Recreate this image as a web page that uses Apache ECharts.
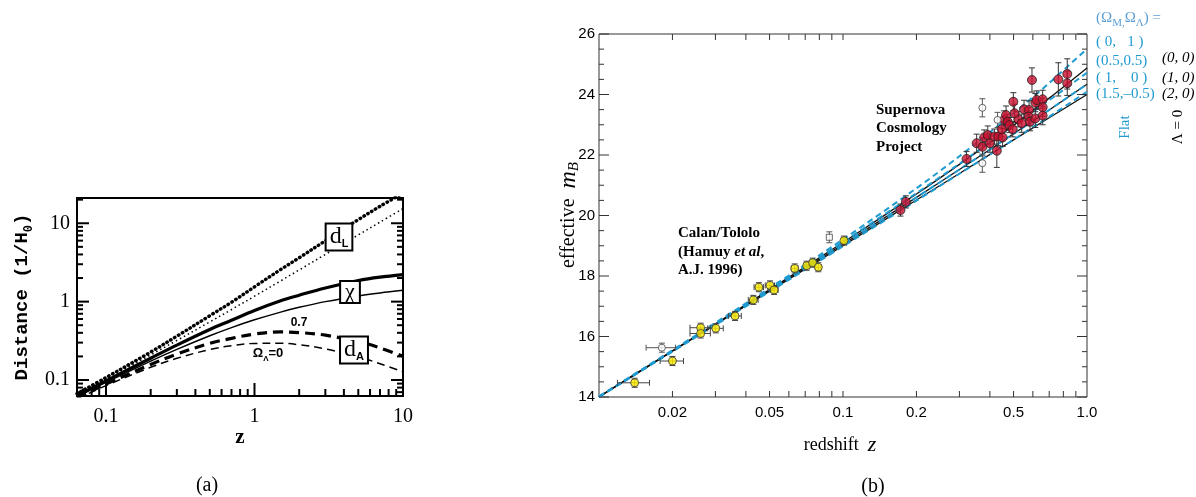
<!DOCTYPE html>
<html><head><meta charset="utf-8">
<script src="https://cdn.jsdelivr.net/npm/echarts@6/dist/echarts.min.js"></script>
<style>html,body{margin:0;padding:0;background:#fff}#c{width:1196px;height:497px}</style>
</head><body><div id="c"></div>
<script>
// ---------- Panel (a): distances vs z ----------
const aZ     = [0.0638, 0.1, 0.2, 0.3, 0.5, 0.7, 1, 1.5, 2, 3, 5, 7, 10];
const aDL07  = [0.0670, 0.1074, 0.2275, 0.3622, 0.6612, 0.982, 1.543, 2.568, 3.627, 5.976, 11.12, 16.44, 24.3];
const aDL0   = [0.0649, 0.1024, 0.2091, 0.3196, 0.5505, 0.7923, 1.172, 1.838, 2.536, 4.0, 7.10, 10.34, 15.37];
const aChi07 = [0.0630, 0.0976, 0.1896, 0.2786, 0.4408, 0.5777, 0.7714, 1.027, 1.209, 1.494, 1.858, 2.055, 2.208];
const aChi0  = [0.0610, 0.0931, 0.1743, 0.2459, 0.3670, 0.4661, 0.5858, 0.7351, 0.8453, 1.0, 1.1835, 1.2929, 1.397];
const aDA07  = [0.0593, 0.0887, 0.1580, 0.2143, 0.2939, 0.3398, 0.3857, 0.4108, 0.4030, 0.3734, 0.3097, 0.2569, 0.2007];
const aDA0   = [0.0574, 0.0847, 0.1452, 0.1891, 0.2447, 0.2742, 0.2929, 0.2940, 0.2818, 0.2500, 0.1973, 0.1616, 0.1270];
const aXMajor = [0.1, 1, 10];
const aXMinor = [0.07,0.08,0.09,0.2,0.3,0.4,0.5,0.6,0.7,0.8,0.9,2,3,4,5,6,7,8,9];
const aXLabels = ['0.1','1','10'];
const aYMajor = [0.1, 1, 10];
const aYMinor = [0.07,0.08,0.09,0.2,0.3,0.4,0.5,0.6,0.7,0.8,0.9,2,3,4,5,6,7,8,9,20];
const aYLabels = ['0.1','1','10'];

// ---------- Panel (b): Hubble diagram ----------
const bZ = [0.01, 0.02, 0.05, 0.1, 0.2, 0.3, 0.5, 0.7, 1.0];
const mFlat_0_1    = [14.02, 15.55, 17.60, 19.21, 20.90, 21.96, 23.38, 24.38, 25.51];
const mFlat_05_05  = [14.01, 15.53, 17.56, 19.13, 20.74, 21.71, 22.97, 23.81, 24.72];
const mFlat_1_0    = [14.01, 15.52, 17.52, 19.05, 20.60, 21.52, 22.70, 23.49, 24.34];
const mFlat_15_m05 = [14.00, 15.50, 17.48, 18.98, 20.49, 21.38, 22.51, 23.27, 24.09];
const mL0_0_0      = [14.01, 15.53, 17.55, 19.11, 20.71, 21.69, 22.98, 23.88, 24.88];
const mL0_1_0      = [14.01, 15.52, 17.52, 19.05, 20.60, 21.52, 22.70, 23.49, 24.34];
const mL0_2_0      = [14.00, 15.51, 17.50, 19.00, 20.51, 21.39, 22.50, 23.23, 24.00];

// Calan/Tololo (yellow)
const ctZ    = [0.0140, 0.0200, 0.0261, 0.0261, 0.0301, 0.0361, 0.0429, 0.0452, 0.0502, 0.0522, 0.0634, 0.0710, 0.0751, 0.0792, 0.1009];
const ctM    = [14.47, 15.19, 16.29, 16.10, 16.27, 16.68, 17.21, 17.63, 17.69, 17.54, 18.25, 18.34, 18.44, 18.29, 19.17];
const ctZErr = [0.0021, 0.0022, 0.0025, 0.0025, 0.0022, 0.0022, 0.0020, 0.0020, 0.0022, 0.0020, 0.0020, 0.0020, 0.0020, 0.0020, 0.0020];
const ctMErr = [0.15, 0.15, 0.15, 0.15, 0.15, 0.15, 0.15, 0.15, 0.15, 0.15, 0.15, 0.15, 0.15, 0.15, 0.15];
// Calan/Tololo excluded (open)
const ctOpenCircZ = [0.0181], ctOpenCircM = [15.63], ctOpenCircZErr = [0.0025], ctOpenCircMErr = [0.15];
const ctOpenSqZ = [0.0879], ctOpenSqM = [19.28], ctOpenSqMErr = [0.18];

// Supernova Cosmology Project (red)
const scpZ = [0.172, 0.181, 0.321, 0.353, 0.373, 0.379, 0.392, 0.400, 0.417, 0.427, 0.433, 0.448, 0.451, 0.457, 0.466, 0.473, 0.481, 0.496, 0.499, 0.523, 0.552, 0.579, 0.576, 0.584, 0.595, 0.614, 0.614, 0.622, 0.658, 0.658, 0.658, 0.763, 0.830, 0.830, 0.505, 0.540];
const scpM = [20.18, 20.45, 21.87, 22.39, 22.27, 22.58, 22.66, 22.39, 22.61, 22.14, 22.61, 22.85, 22.58, 23.16, 23.32, 23.10, 22.99, 22.85, 23.76, 23.18, 23.51, 23.49, 23.27, 23.10, 24.48, 23.21, 23.73, 23.82, 23.84, 23.58, 23.30, 24.50, 24.68, 24.37, 23.38, 23.05];
const scpMErr = [0.20, 0.20, 0.25, 0.30, 0.30, 0.25, 0.30, 0.30, 0.25, 0.55, 0.30, 0.25, 0.30, 0.30, 0.30, 0.25, 0.25, 0.25, 0.30, 0.25, 0.30, 0.30, 0.30, 0.30, 0.40, 0.30, 0.30, 0.30, 0.30, 0.30, 0.30, 0.55, 0.50, 0.40, 0.30, 0.30];
const scpOpenZ = [0.3725, 0.3725, 0.430];
const scpOpenM = [23.56, 21.73, 23.16];
const scpOpenMErr = [0.30, 0.30, 0.25];

const bXTicks = [0.02,0.03,0.04,0.05,0.06,0.07,0.08,0.09,0.1,0.2,0.3,0.4,0.5,0.6,0.7,0.8,0.9];
const bXLabelVals = [0.02, 0.05, 0.1, 0.2, 0.5, 1.0];
const bXLabels = ['0.02','0.05','0.1','0.2','0.5','1.0'];
const bYTicks = [14,14.5,15,15.5,16,16.5,17,17.5,18,18.5,19,19.5,20,20.5,21,21.5,22,22.5,23,23.5,24,24.5,25,25.5,26];
const bYLabelVals = [14,16,18,20,22,24,26];
const bYLabels = ['14','16','18','20','22','24','26'];

// ---------- helpers ----------
const zip = (xs, ys) => xs.map((x, i) => [x, ys[i]]);
const A_X = [0.0638, 10], A_Y = [0.0625, 21];
const B_X = [0.01, 1.0], B_Y = [14, 26];

function xTicks(ax, vals, yr, len, width, color, both) {
  return {type:'custom', xAxisIndex:ax, yAxisIndex:ax, silent:true, clip:false, z:6,
    data: vals.map(v => [v, yr[0]]),
    renderItem(params, api) {
      const v = api.value(0);
      const p0 = api.coord([v, yr[0]]), p1 = api.coord([v, yr[1]]);
      const st = {stroke:color, lineWidth:width};
      const ch = [{type:'line', shape:{x1:p0[0], y1:p0[1], x2:p0[0], y2:p0[1]-len}, style:st}];
      if (both) ch.push({type:'line', shape:{x1:p1[0], y1:p1[1], x2:p1[0], y2:p1[1]+len}, style:st});
      return {type:'group', children:ch};
    }};
}
function yTicks(ax, vals, xr, lenFn, width, color) {
  return {type:'custom', xAxisIndex:ax, yAxisIndex:ax, silent:true, clip:false, z:6,
    data: vals.map(v => [xr[0], v]),
    renderItem(params, api) {
      const v = api.value(1);
      const len = lenFn(v);
      const p0 = api.coord([xr[0], v]), p1 = api.coord([xr[1], v]);
      const st = {stroke:color, lineWidth:width};
      return {type:'group', children:[
        {type:'line', shape:{x1:p0[0], y1:p0[1], x2:p0[0]+len, y2:p0[1]}, style:st},
        {type:'line', shape:{x1:p1[0], y1:p1[1], x2:p1[0]-len, y2:p1[1]}, style:st}
      ]};
    }};
}
function xLabels(ax, vals, texts, yr, dy, font) {
  return {type:'custom', xAxisIndex:ax, yAxisIndex:ax, silent:true, clip:false, z:6,
    data: vals.map(v => [v, yr[0]]),
    renderItem(params, api) {
      const p = api.coord([api.value(0), yr[0]]);
      return {type:'text', style:{text:texts[params.dataIndex], x:p[0], y:p[1]+dy, font:font, fill:'#000', align:'center', verticalAlign:'middle'}};
    }};
}
function yLabels(ax, vals, texts, xr, dx, font) {
  return {type:'custom', xAxisIndex:ax, yAxisIndex:ax, silent:true, clip:false, z:6,
    data: vals.map(v => [xr[0], v]),
    renderItem(params, api) {
      const p = api.coord([xr[0], api.value(1)]);
      return {type:'text', style:{text:texts[params.dataIndex], x:p[0]-dx, y:p[1], font:font, fill:'#000', align:'right', verticalAlign:'middle'}};
    }};
}
function errBars(zs, ms, zerr, merr, color) {
  return {type:'custom', xAxisIndex:1, yAxisIndex:1, silent:true, clip:true, z:3,
    data: zs.map((z, i) => [z, ms[i], zerr ? zerr[i] : 0, merr[i]]),
    renderItem(params, api) {
      const z = api.value(0), m = api.value(1), dz = api.value(2), dm = api.value(3);
      const st = {stroke:color, lineWidth:1};
      const pu = api.coord([z, m + dm]), pd = api.coord([z, m - dm]);
      const c = 3;
      const ch = [
        {type:'line', shape:{x1:pu[0], y1:pu[1], x2:pd[0], y2:pd[1]}, style:st},
        {type:'line', shape:{x1:pu[0]-c, y1:pu[1], x2:pu[0]+c, y2:pu[1]}, style:st},
        {type:'line', shape:{x1:pd[0]-c, y1:pd[1], x2:pd[0]+c, y2:pd[1]}, style:st}
      ];
      if (dz > 0) {
        const pl = api.coord([z - dz, m]), pr = api.coord([z + dz, m]);
        ch.push({type:'line', shape:{x1:pl[0], y1:pl[1], x2:pr[0], y2:pr[1]}, style:st});
        ch.push({type:'line', shape:{x1:pl[0], y1:pl[1]-c, x2:pl[0], y2:pl[1]+c}, style:st});
        ch.push({type:'line', shape:{x1:pr[0], y1:pr[1]-c, x2:pr[0], y2:pr[1]+c}, style:st});
      }
      return {type:'group', children:ch};
    }};
}
function aLine(ys, width, dash, cap) {
  return {type:'line', xAxisIndex:0, yAxisIndex:0, data:zip(aZ, ys), symbol:'none', smooth:0.35, clip:true, z:2,
    lineStyle:{color:'#000', width:width, type:dash, cap:cap || 'butt'}};
}
function bLine(ys, color, width, dash) {
  return {type:'line', xAxisIndex:1, yAxisIndex:1, data:zip(bZ, ys), symbol:'none', smooth:0.3, clip:true, z:2,
    lineStyle:{color:color, width:width, type:dash}};
}

const CYAN = '#1f9bd0', LBLUE = '#5c9fd6';
const serif = '"Liberation Serif", "Times New Roman", serif';
const sans = '"Liberation Sans", Arial, sans-serif';
const mono = '"Liberation Mono", "DejaVu Sans Mono", monospace';

function T(x, y, text, font, opts, rot) {
  return {type:'text', x:x, y:y, z:50, rotation:rot || 0,
    style:Object.assign({text:text, font:font, fill:'#000', align:'left', verticalAlign:'middle'}, opts || {})};
}
const R90 = Math.PI / 2;

const graphics = [
  // panel (a)
  T(22, 297, 'Distance (1/H{s|0})', 'bold 19px ' + mono, {align:'center', rich:{s:{font:'bold 12px ' + mono, verticalAlign:'bottom', lineHeight:26}}}, R90),
  T(240, 438, 'z', 'bold 21px ' + serif, {align:'center'}),
  T(207, 486, '(a)', '20px ' + serif, {align:'center'}),
  T(339, 237, 'd{s|L}', '24px ' + serif, {align:'center', backgroundColor:'#fff', borderColor:'#000', borderWidth:2, padding:[0,3,0,3], lineHeight:25, rich:{s:{font:'bold 11px ' + sans, verticalAlign:'bottom', lineHeight:25}}}),
  T(350, 292, 'χ', '22px ' + serif, {align:'center', backgroundColor:'#fff', borderColor:'#000', borderWidth:2, padding:[0,4,0,4], lineHeight:20}),
  T(354, 350, 'd{s|A}', '24px ' + serif, {align:'center', backgroundColor:'#fff', borderColor:'#000', borderWidth:2, padding:[0,3,0,3], lineHeight:25, rich:{s:{font:'bold 11px ' + sans, verticalAlign:'bottom', lineHeight:25}}}),
  T(299, 323, '0.7', 'bold 12px ' + sans, {align:'center'}),
  T(268, 353, 'Ω{s|Λ}=0', 'bold 13px ' + sans, {align:'center', rich:{s:{font:'bold 8px ' + sans, verticalAlign:'bottom', lineHeight:20}}}),
  // panel (b)
  T(569, 215, '{n|effective}  {m|m}{s|B}', '20px ' + serif, {align:'center', rich:{n:{font:'20px ' + serif, lineHeight:26}, m:{font:'italic 24px ' + serif, lineHeight:26}, s:{font:'italic 15px ' + serif, verticalAlign:'bottom', lineHeight:26}}}, R90),
  T(840, 445, 'redshift  {z|z}', '18px ' + serif, {align:'center', rich:{z:{font:'italic 22px ' + serif}}}),
  T(873, 487, '(b)', '20px ' + serif, {align:'center'}),
  T(876, 110, 'Supernova', 'bold 15px ' + serif),
  T(876, 128, 'Cosmology', 'bold 15px ' + serif),
  T(876, 147, 'Project', 'bold 15px ' + serif),
  T(678, 233, 'Calan/Tololo', 'bold 15px ' + serif),
  T(678, 252, '(Hamuy {i|et al},', 'bold 15px ' + serif, {rich:{i:{font:'bold italic 15px ' + serif}}}),
  T(678, 270, 'A.J. 1996)', 'bold 15px ' + serif),
  T(1096, 18, '(Ω{s|M,}Ω{s|Λ}) =', '15px ' + serif, {fill:LBLUE, rich:{s:{font:'11px ' + serif, fill:LBLUE, verticalAlign:'bottom', lineHeight:22}}}),
  T(1096, 42, '( 0,   1 )', '15px ' + serif, {fill:CYAN}),
  T(1096, 61, '(0.5,0.5)', '15px ' + serif, {fill:CYAN}),
  T(1096, 78, '( 1,    0 )', '15px ' + serif, {fill:CYAN}),
  T(1096, 94, '(1.5,\u20130.5)', '15px ' + serif, {fill:CYAN}),
  T(1162, 58, '(0, 0)', 'italic 15px ' + serif),
  T(1162, 78, '(1, 0)', 'italic 15px ' + serif),
  T(1162, 94, '(2, 0)', 'italic 15px ' + serif),
  T(1125, 127, 'Flat', '15px ' + serif, {fill:CYAN, align:'center'}, R90),
  T(1178, 127, 'Λ = 0', '15px ' + serif, {align:'center'}, R90)
];

const hiddenAxis = {axisLine:{show:false}, axisTick:{show:false}, axisLabel:{show:false}, splitLine:{show:false}};

const option = {
  animation:false,
  backgroundColor:'#fff',
  grid:[
    {left:77, top:198, width:326, height:198, show:true, borderColor:'#000', borderWidth:2, backgroundColor:'transparent'},
    {left:599, top:34, width:488, height:363, show:true, borderColor:'#333', borderWidth:1, backgroundColor:'transparent'}
  ],
  xAxis:[
    Object.assign({type:'log', gridIndex:0, min:A_X[0], max:A_X[1], logBase:10}, hiddenAxis),
    Object.assign({type:'log', gridIndex:1, min:B_X[0], max:B_X[1], logBase:10}, hiddenAxis)
  ],
  yAxis:[
    Object.assign({type:'log', gridIndex:0, min:A_Y[0], max:A_Y[1], logBase:10}, hiddenAxis),
    Object.assign({type:'value', gridIndex:1, min:B_Y[0], max:B_Y[1]}, hiddenAxis)
  ],
  graphic: graphics,
  series:[
    // panel (a) curves
    aLine(aDL0, 1.5, [1.5, 3]),
    aLine(aDL07, 3.4, [0.5, 4], 'round'),
    aLine(aChi0, 1.5, 'solid'),
    aLine(aChi07, 3.2, 'solid'),
    aLine(aDA0, 1.5, [8, 5]),
    aLine(aDA07, 3.2, [10, 6]),
    // panel (a) axes
    xTicks(0, aXMajor, A_Y, 13, 2, '#000', false),
    xTicks(0, aXMinor, A_Y, 7, 2, '#000', false),
    yTicks(0, aYMajor, A_X, () => 12, 2, '#000'),
    yTicks(0, aYMinor, A_X, () => 6, 2, '#000'),
    xLabels(0, aXMajor, aXLabels, A_Y, 21, '20px ' + serif),
    yLabels(0, aYMajor, aYLabels, A_X, 7, '20px ' + serif),
    // panel (b) model lines
    bLine(mL0_0_0, '#111', 1.3, 'solid'),
    bLine(mL0_1_0, '#111', 1.3, 'solid'),
    bLine(mL0_2_0, '#111', 1.3, 'solid'),
    bLine(mFlat_0_1, CYAN, 2, [6, 4]),
    bLine(mFlat_05_05, CYAN, 2, [6, 4]),
    bLine(mFlat_1_0, CYAN, 2, [6, 4]),
    bLine(mFlat_15_m05, CYAN, 2, [6, 4]),
    // error bars
    errBars(ctZ, ctM, ctZErr, ctMErr, '#444'),
    errBars(ctOpenCircZ, ctOpenCircM, ctOpenCircZErr, ctOpenCircMErr, '#555'),
    errBars(ctOpenSqZ, ctOpenSqM, null, ctOpenSqMErr, '#555'),
    errBars(scpZ, scpM, null, scpMErr, '#333'),
    errBars(scpOpenZ, scpOpenM, null, scpOpenMErr, '#555'),
    // points
    {type:'scatter', xAxisIndex:1, yAxisIndex:1, data:zip(ctZ, ctM), symbol:'circle', symbolSize:8, z:4,
      itemStyle:{color:'#ffec00', borderColor:'#333', borderWidth:1}},
    {type:'scatter', xAxisIndex:1, yAxisIndex:1, data:zip(ctOpenCircZ, ctOpenCircM), symbol:'circle', symbolSize:7, z:4,
      itemStyle:{color:'#fff', borderColor:'#444', borderWidth:1}},
    {type:'scatter', xAxisIndex:1, yAxisIndex:1, data:zip(ctOpenSqZ, ctOpenSqM), symbol:'rect', symbolSize:6, z:4,
      itemStyle:{color:'#fff', borderColor:'#444', borderWidth:1}},
    {type:'scatter', xAxisIndex:1, yAxisIndex:1, data:zip(scpZ, scpM), symbol:'circle', symbolSize:9, z:4,
      itemStyle:{color:'#c8102e', borderColor:'#222', borderWidth:1}},
    {type:'scatter', xAxisIndex:1, yAxisIndex:1, data:zip(scpOpenZ, scpOpenM), symbol:'circle', symbolSize:7, z:4,
      itemStyle:{color:'#fff', borderColor:'#444', borderWidth:1}},
    // panel (b) axes
    xTicks(1, bXTicks, B_Y, 6, 1, '#333', true),
    yTicks(1, bYTicks, B_X, v => (v % 2 === 0 ? 10 : 5), 1, '#333'),
    xLabels(1, bXLabelVals, bXLabels, B_Y, 16, '15px ' + sans),
    yLabels(1, bYLabelVals, bYLabels, B_X, 4, '15px ' + sans)
  ]
};
const chart = echarts.init(document.getElementById('c'));
chart.setOption(option);
</script>
</body></html>
